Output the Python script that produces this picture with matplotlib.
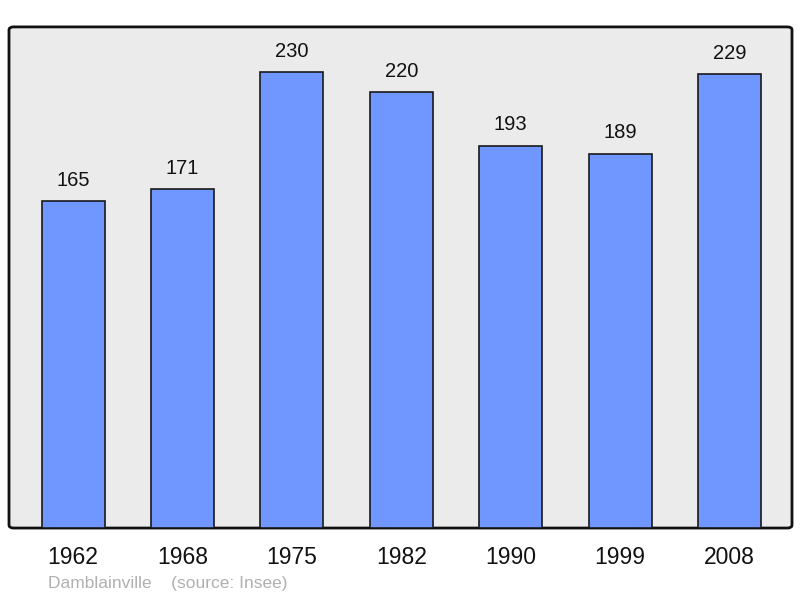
import matplotlib.pyplot as plt
from matplotlib.patches import FancyBboxPatch

years = ['1962', '1968', '1975', '1982', '1990', '1999', '2008']
population = [165, 171, 230, 220, 193, 189, 229]

plt.rcParams['font.family'] = ['Liberation Sans', 'DejaVu Sans']

fig = plt.figure(figsize=(8, 5.98), dpi=100)
ax = fig.add_axes([0.01125, 0.117, 0.97875, 0.838])

# rounded grey frame instead of the normal spines
frame = FancyBboxPatch((0, 0), 1, 1, boxstyle='round,pad=0,rounding_size=0.006',
                       transform=ax.transAxes, facecolor='#ebebeb',
                       edgecolor='#111111', linewidth=2, zorder=0, clip_on=False)
ax.add_patch(frame)
ax.patch.set_visible(False)
for s in ax.spines.values():
    s.set_visible(False)

x = range(len(years))
bars = ax.bar(x, population, width=0.576, color='#7096ff', edgecolor='#1a1a1a',
              linewidth=1.2, zorder=2)
for xi, v in zip(x, population):
    ax.annotate(str(v), (xi, v), xytext=(0, 15), textcoords='offset points',
                ha='center', va='center', fontsize=14.5, color='#111111')

ax.set_xlim(-0.585, 6.57)
ax.set_ylim(0, 253)
ax.set_xticks(list(x))
ax.set_xticklabels(years, fontsize=16.5, color='#111111')
ax.tick_params(axis='x', length=0, pad=13)
ax.set_yticks([])

fig.text(0.06, 0.025, 'Damblainville    (source: Insee)', fontsize=12.5,
         color='#b0b0b0', ha='left', va='center')

fig.savefig('out.png', dpi=100)
